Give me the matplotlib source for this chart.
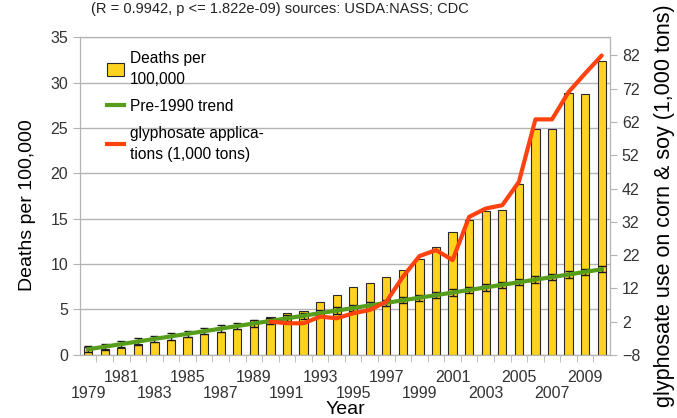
import matplotlib
matplotlib.use('Agg')
import matplotlib.pyplot as plt
from matplotlib.lines import Line2D
from matplotlib.patches import Patch

plt.rcParams['font.family'] = ['Liberation Sans', 'DejaVu Sans']

# data
years = list(range(1979, 2011))
deaths = [0.9, 0.7, 0.8, 1.2, 1.4, 1.65, 2.0, 2.3, 2.55, 2.8, 3.8, 4.15,
          4.6, 4.85, 5.8, 6.65, 7.45, 7.9, 8.55, 9.35, 10.6, 11.9, 13.5,
          14.85, 15.85, 15.95, 18.8, 24.85, 24.85, 28.9, 28.7, 32.4]
trend = [0.62, 0.90, 1.19, 1.47, 1.76, 2.04, 2.32, 2.61, 2.89, 3.18, 3.46,
         3.74, 4.03, 4.31, 4.60, 4.88, 5.16, 5.45, 5.73, 6.02, 6.30, 6.58,
         6.87, 7.15, 7.44, 7.72, 8.00, 8.29, 8.57, 8.86, 9.14, 9.43]
gly_years = list(range(1990, 2011))
glyphosate = [2.0, 1.5, 1.5, 3.5, 3.0, 4.5, 5.5, 8.0, 15.5, 21.7, 23.5, 20.5,
              33.5, 36.0, 37.0, 44.0, 62.8, 62.8, 71.0, 76.6, 82.0]

fig = plt.figure(figsize=(6.77, 4.18), dpi=100)
ax = fig.add_axes([0.118, 0.151, 0.783, 0.760])
ax2 = ax.twinx()

grey = '#b3b3b3'
ax.set_axisbelow(True)
ax.yaxis.grid(True, color=grey, linewidth=1)
ax.bar(years, deaths, width=0.5, color='#ffd320', edgecolor='#2a2a2a',
       linewidth=0.8, zorder=2)
ax.errorbar(years, trend, yerr=0.35, color='#579d1c', linewidth=3,
            ecolor='#1a1a1a', elinewidth=1, capsize=3, capthick=1, zorder=3)
ax2.plot(gly_years, glyphosate, color='#ff420e', linewidth=3,
         solid_capstyle='round', zorder=4)

ax.set_xlim(1978.5, 2010.5)
ax.set_ylim(0, 35)
ax2.set_ylim(-8, 87.5)
ax.set_yticks(range(0, 36, 5))
ax2.set_yticks(range(-8, 83, 10))

# x ticks: marks between categories, labels every two years staggered
ax.set_xticks([y + 0.5 for y in years[:-1]], minor=True)
ax.set_xticks([y for y in years if (y - 1979) % 2 == 0])
lbls = []
for y in years:
    if (y - 1979) % 2 == 0:
        lbls.append(str(y) if (y - 1979) % 4 == 2 else '\n' + str(y))
ax.set_xticklabels(lbls, linespacing=1.05)
ax.tick_params(axis='x', which='major', length=0, pad=11)
ax.tick_params(axis='x', which='minor', length=5, color=grey)

for a in (ax, ax2):
    for s in a.spines.values():
        s.set_color(grey)
    a.tick_params(axis='y', color=grey, length=5, labelsize=11.5,
                  labelcolor='#333333')
ax.tick_params(axis='x', labelsize=11.5, labelcolor='#333333')

ax.set_xlabel('Year', fontsize=14)
ax.xaxis.set_label_coords(0.5, -0.145)
ax.set_ylabel('Deaths per 100,000', fontsize=14)
ax.yaxis.set_label_coords(-0.083, 0.47)
ax2.set_ylabel('glyphosate use on corn & soy (1,000 tons)', fontsize=15.5)
ax2.yaxis.set_label_coords(1.083, 0.47)

handles = [Patch(facecolor='#ffd320', edgecolor='#2a2a2a', linewidth=0.8),
           Line2D([], [], color='#579d1c', linewidth=3),
           Line2D([], [], color='#ff420e', linewidth=3)]
labels = ['Deaths per\n100,000', 'Pre-1990 trend',
          'glyphosate applica-\ntions (1,000 tons)']
leg = ax2.legend(handles, labels, loc='upper left', bbox_to_anchor=(0.03, 0.99),
                 frameon=False, fontsize=11.2, handlelength=1.1, handleheight=0.9,
                 handletextpad=0.4, labelspacing=0.75, borderpad=0.2)
for t in leg.get_texts():
    t.set_linespacing(1.5)

fig.text(0.414, 0.978, '(R = 0.9942, p <= 1.822e-09) sources: USDA:NASS; CDC',
         ha='center', va='center', fontsize=10.5, color='#222222')

fig.savefig('out.png', dpi=100)
